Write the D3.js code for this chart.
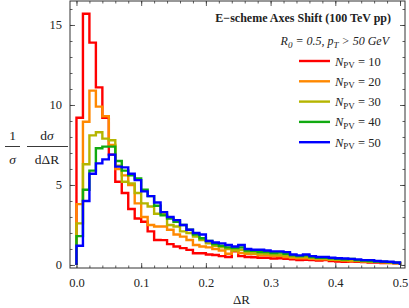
<!DOCTYPE html>
<html><head><meta charset="utf-8">
<script src="https://cdn.jsdelivr.net/npm/d3@7"></script>
<style>
body{margin:0;background:#fff}
svg text{font-family:"Liberation Serif","DejaVu Serif",serif !important;fill:#222}
</style>
</head><body>
<svg id="c" width="409" height="308"></svg>
<script>
// ---- data ----
const binWidth = 0.01;
const seriesNames = ["10", "20", "30", "40", "50"];
const seriesColors = ["#ff0000", "#ff8800", "#b5b500", "#11aa11", "#0000ff"];
const n10 = [9.2,15.7,13.9,11.1,9.2,6.9,5.2,4.5,3.5,2.9,2.7,2.1,1.56,1.55,1.3,1.15,1.05,0.94,0.73,0.73,0.65,0.62,0.55,0.5,0.85,0.55,0.5,0.48,0.45,0.45,0.4,0.42,0.38,0.35,0.3,0.32,0.3,0.28,0.3,0.25,0.22,0.2,0.22,0.2,0.18,0.15,0.15,0.12,0.12,0.1];
const n20 = [3.8,8.95,10.9,9.9,9.3,7.5,6.0,5.6,5.0,3.85,3.0,2.5,2.4,2.4,2.2,1.9,1.77,1.56,1.25,1.15,1.1,1.0,0.9,0.7,1.0,0.75,0.7,0.68,0.6,0.6,0.55,0.55,0.5,0.45,0.42,0.42,0.38,0.35,0.35,0.32,0.3,0.28,0.25,0.25,0.22,0.2,0.2,0.17,0.15,0.12];
const n30 = [2.6,6.3,8.1,8.3,7.9,7.8,6.2,5.2,5.1,4.5,3.85,3.65,3.2,3.2,2.5,2.4,2.1,2.0,1.77,1.56,1.35,1.2,1.1,1.0,0.9,0.95,0.8,0.75,0.72,0.7,0.65,0.62,0.6,0.52,0.5,0.5,0.45,0.4,0.4,0.35,0.33,0.3,0.3,0.27,0.25,0.22,0.2,0.18,0.15,0.12];
const n40 = [1.8,4.7,5.9,7.3,7.4,7.4,6.5,5.9,5.6,5.4,4.7,4.3,3.7,3.1,2.9,2.7,2.5,2.2,1.9,1.67,1.5,1.3,1.2,1.1,1.05,1.1,0.9,0.88,0.8,0.8,0.75,0.78,0.7,0.6,0.55,0.6,0.5,0.45,0.45,0.42,0.38,0.35,0.38,0.3,0.28,0.25,0.22,0.2,0.18,0.14];
const n50 = [1.2,4.0,5.7,6.35,6.6,6.9,6.15,6.1,5.7,5.3,4.6,4.3,3.9,3.3,3.0,2.8,2.5,2.2,2.0,1.9,1.5,1.4,1.35,1.25,1.15,1.25,1.0,0.95,0.95,0.9,0.85,0.85,0.8,0.65,0.6,0.65,0.55,0.5,0.5,0.45,0.42,0.4,0.38,0.35,0.3,0.3,0.25,0.22,0.2,0.15];
const allSeries = [n10, n20, n30, n40, n50];
const xMajorTicks = [0, 0.1, 0.2, 0.3, 0.4, 0.5];
const xTickLabels = ["0.0", "0.1", "0.2", "0.3", "0.4", "0.5"];
const yMajorTicks = [0, 5, 10, 15];
const yTickLabels = ["0", "5", "10", "15"];
const titleText = "E\u2212scheme Axes Shift (100 TeV pp)";

// ---- layout ----
const svg = d3.select("#c");
const L = 70, R = 405, T = 1, B = 268;
const x = d3.scaleLinear().domain([-0.01, 0.5077]).range([L, R]);
const y = d3.scaleLinear().domain([-0.19, 16.5]).range([B, T]);

// ---- series ----
const line = d3.line().x(d => x(d[0])).y(d => y(d[1])).curve(d3.curveStepAfter);
allSeries.forEach((vals, k) => {
  const pts = [[0, 0]];
  vals.forEach((v, i) => pts.push([i * binWidth, v]));
  pts.push([vals.length * binWidth, 0]);
  svg.append("path").attr("d", line(pts)).attr("fill", "none")
    .attr("stroke", seriesColors[k]).attr("stroke-width", 2.4)
    .attr("stroke-linejoin", "miter");
});

// ---- frame & axes ----
const xMinor = d3.range(0, 0.5001, 0.02);
const yMinor = d3.range(0, 16.01, 1);
function styleAxis(g) {
  g.attr("font-family", null);
  g.select(".domain").remove();
  g.selectAll("line").attr("stroke", "#333").attr("stroke-width", 0.8);
  g.selectAll("text").attr("font-size", 12.5).attr("fill", "#222");
}
svg.append("g").attr("transform", `translate(0,${B})`)
  .call(d3.axisBottom(x).tickValues(xMinor).tickSize(-2.5).tickFormat("")).call(styleAxis);
svg.append("g").attr("transform", `translate(0,${B})`)
  .call(d3.axisBottom(x).tickValues(xMajorTicks).tickSize(-5).tickPadding(10)
    .tickFormat((d, i) => xTickLabels[i])).call(styleAxis);
svg.append("g").attr("transform", `translate(0,${T})`)
  .call(d3.axisTop(x).tickValues(xMinor).tickSize(-2.5).tickFormat("")).call(styleAxis);
svg.append("g").attr("transform", `translate(0,${T})`)
  .call(d3.axisTop(x).tickValues(xMajorTicks).tickSize(-5).tickFormat("")).call(styleAxis);
svg.append("g").attr("transform", `translate(${L},0)`)
  .call(d3.axisLeft(y).tickValues(yMinor).tickSize(-2.5).tickFormat("")).call(styleAxis);
svg.append("g").attr("transform", `translate(${L},0)`)
  .call(d3.axisLeft(y).tickValues(yMajorTicks).tickSize(-5).tickPadding(8)
    .tickFormat((d, i) => yTickLabels[i])).call(styleAxis);
svg.append("g").attr("transform", `translate(${R},0)`)
  .call(d3.axisRight(y).tickValues(yMinor).tickSize(-2.5).tickFormat("")).call(styleAxis);
svg.append("g").attr("transform", `translate(${R},0)`)
  .call(d3.axisRight(y).tickValues(yMajorTicks).tickSize(-5).tickFormat("")).call(styleAxis);
svg.append("rect").attr("x", L).attr("y", T).attr("width", R - L).attr("height", B - T)
  .attr("fill", "none").attr("stroke", "#333").attr("stroke-width", 1);

// ---- axis labels ----
svg.append("text").attr("x", (L + R) / 2 + 4).attr("y", 304).attr("text-anchor", "middle")
  .attr("font-size", 13).text("\u0394R");
const yl = svg.append("g");
yl.append("text").attr("x", 12.5).attr("y", 140).attr("text-anchor", "middle").attr("font-size", 13.5).text("1");
yl.append("text").attr("x", 12.5).attr("y", 164).attr("text-anchor", "middle").attr("font-size", 13.5)
  .attr("font-style", "italic").text("\u03c3");
yl.append("line").attr("x1", 5).attr("x2", 20).attr("y1", 146.5).attr("y2", 146.5).attr("stroke", "#222").attr("stroke-width", 0.9);
const t1 = yl.append("text").attr("x", 47).attr("y", 140).attr("text-anchor", "middle").attr("font-size", 13.5);
t1.append("tspan").text("d");
t1.append("tspan").attr("font-style", "italic").text("\u03c3");
yl.append("text").attr("x", 47).attr("y", 164).attr("text-anchor", "middle").attr("font-size", 13.5).text("d\u0394R");
yl.append("line").attr("x1", 27).attr("x2", 68).attr("y1", 146.5).attr("y2", 146.5).attr("stroke", "#222").attr("stroke-width", 0.9);

// ---- title & legend ----
svg.append("text").attr("x", 391).attr("y", 22).attr("text-anchor", "end")
  .attr("font-size", 12).attr("font-weight", "bold").text(titleText);
const sub = svg.append("text").attr("x", 389).attr("y", 45).attr("text-anchor", "end")
  .attr("font-size", 12).attr("font-style", "italic");
sub.append("tspan").text("R");
sub.append("tspan").attr("font-size", 9).attr("dy", 2.5).text("0");
sub.append("tspan").attr("dy", -2.5).text(" = 0.5, p");
sub.append("tspan").attr("font-size", 9).attr("dy", 2.5).text("T");
sub.append("tspan").attr("dy", -2.5).text(" > 50 GeV");

seriesNames.forEach((nm, k) => {
  const cy = 61 + k * 20.3;
  svg.append("line").attr("x1", 299).attr("x2", 330).attr("y1", cy).attr("y2", cy)
    .attr("stroke", seriesColors[k]).attr("stroke-width", 2.4);
  const t = svg.append("text").attr("x", 335).attr("y", cy + 4.5).attr("font-size", 12.5);
  t.append("tspan").attr("font-style", "italic").text("N");
  t.append("tspan").attr("font-size", 9).attr("dy", 2.5).text("PV");
  t.append("tspan").attr("dy", -2.5).text(" = " + nm);
});
</script>
</body></html>
